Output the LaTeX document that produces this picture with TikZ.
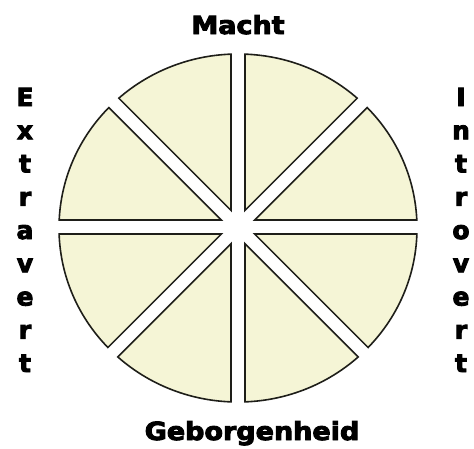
\documentclass[tikz,border=0pt]{standalone}
\usepackage{fontspec}
\setmainfont{DejaVu Sans}
\newfontfamily\heavyfont{DejaVu Sans}[BoldFeatures={FakeBold=3.5}]
\definecolor{cream}{RGB}{245,245,214}
\definecolor{rim}{RGB}{30,30,25}
\begin{document}
\begin{tikzpicture}[x=1pt,y=-1pt,
  piece/.style={fill=cream,draw=rim,line width=1.6pt},
  gapedge/.style={draw=rim,line width=15.2pt},
  gapfill/.style={draw=white,line width=12pt},
  lbl/.style={font=\heavyfont\bfseries\fontsize{25}{25}\selectfont,inner sep=0pt,anchor=base,xscale=1.08},
  vlbl/.style={font=\heavyfont\bfseries\fontsize{25}{25}\selectfont,inner sep=0pt,anchor=base}]
\useasboundingbox (0,0) rectangle (474,448);
\coordinate (c) at (238,227);
% disc
\path[piece] (238,228) ellipse [x radius=179pt, y radius=174pt];
% dark edges of the gaps
\begin{scope}
  \clip (238,228) ellipse [x radius=179pt, y radius=174pt];
  \draw[gapedge] (50,227) -- (426,227);
  \draw[gapedge] (238,45) -- (238,411);
  \draw[gapedge] (98,87) -- (378,367);
  \draw[gapedge] (378,87) -- (98,367);
\end{scope}
% white gaps
\draw[gapfill] (50,227) -- (426,227);
\draw[gapfill] (238,45) -- (238,411);
\draw[gapfill] (100,89) -- (376,365);
\draw[gapfill] (376,89) -- (100,365);
% labels
\node[lbl] (macht) at (238,34) {Macht};
\node[lbl] (geborgenheid) at (252,440) {Geborgenheid};
\foreach \l [count=\i] in {E,x,t,r,a,v,e,r,t}
  \node[vlbl] (ex\i) at (25,{106+(\i-1)*33.25}) {\l};
\foreach \l [count=\i] in {I,n,t,r,o,v,e,r,t}
  \node[vlbl] (in\i) at (461,{106+(\i-1)*33.25}) {\l};
\end{tikzpicture}
\end{document}
